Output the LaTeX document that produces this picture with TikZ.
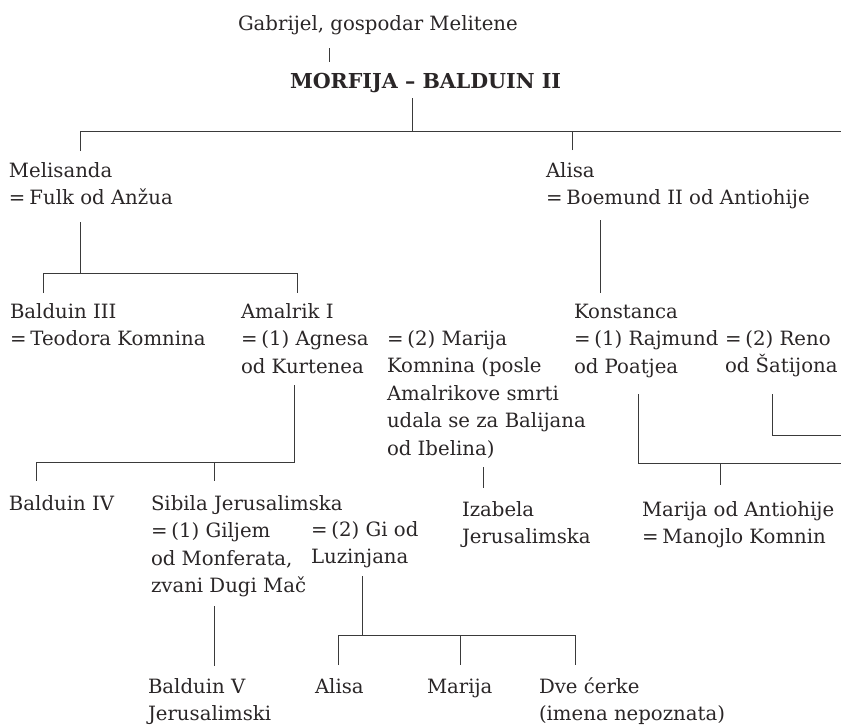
\documentclass[tikz,border=0pt]{standalone}
\usepackage{fontspec}
\setmainfont{DejaVu Serif}
\definecolor{ink}{HTML}{2A2627}
\definecolor{rule}{HTML}{3A3A3A}
\newcommand\pfont{\fontsize{19.7}{27.5}\selectfont}
\newcommand\hfont{\fontsize{20.6}{27.5}\selectfont\bfseries}
\newcommand\eqs{=\hspace{0.2em}}
\tikzset{
  person/.style={anchor=base west, inner sep=0pt, outer sep=0pt, align=left, font=\pfont, text=ink},
  head/.style={person, font=\hfont},
  link/.style={draw=rule, line width=0.9pt},
}
\begin{document}
\begin{tikzpicture}[x=1pt,y=-1pt]
\useasboundingbox (0,0) rectangle (841,726);
% ---- people (position = baseline of the last line) ----
\node[person] (gab) at (238,30) {Gabrijel, gospodar Melitene};
\node[head]   (morf) at (290,88) {MORFIJA – BALDUIN II};
\node[person] (mel) at (9,204.5) {Melisanda\\\eqs Fulk od Anžua};
\node[person] (alisa) at (546,204.5) {Alisa\\\eqs Boemund II od Antiohije};
\node[person] (bal3) at (10,345.5) {Balduin III\\\eqs Teodora Komnina};
\node[person] (amal) at (241,373) {Amalrik I\\\eqs (1) Agnesa\\od Kurtenea};
\node[person] (marK) at (387,455) {\eqs (2) Marija\\Komnina (posle\\Amalrikove smrti\\udala se za Balijana\\od Ibelina)};
\node[person] (kons) at (574,373) {Konstanca\\\eqs (1) Rajmund\\od Poatjea};
\node[person] (reno) at (725,372.5) {\eqs (2) Reno\\od Šatijona};
\node[person] (bal4) at (9,510) {Balduin IV};
\node[person] (sib) at (151,592.5) {Sibila Jerusalimska\\\eqs (1) Giljem\\od Monferata,\\zvani Dugi Mač};
\node[person] (gi) at (311,563.5) {\eqs (2) Gi od\\Luzinjana};
\node[person] (iza) at (462,543.5) {Izabela\\Jerusalimska};
\node[person] (marA) at (642,543.5) {Marija od Antiohije\\\eqs Manojlo Komnin};
\node[person] (bal5) at (148,720.5) {Balduin V\\Jerusalimski};
\node[person] (ali2) at (315,693) {Alisa};
\node[person] (mar2) at (427,693) {Marija};
\node[person] (dve) at (539,720.5) {Dve ćerke\\(imena nepoznata)};
% ---- junction coordinates ----
\coordinate (gA) at (329,48);  \coordinate (gB) at (329,62);
\coordinate (mA) at (412,98);  \coordinate (mB) at (412,131);
\coordinate (barL) at (80,131); \coordinate (barR) at (841,131);
\coordinate (melT) at (80,151); \coordinate (aliT) at (572,150);
\coordinate (meA) at (80,222); \coordinate (meB) at (80,273);
\coordinate (b2L) at (43,273); \coordinate (b2R) at (297,273);
\coordinate (b3T) at (43,293); \coordinate (amT) at (297,293);
\coordinate (alA) at (600,220); \coordinate (koT) at (600,293);
\coordinate (amA) at (294,385); \coordinate (amB) at (294,462);
\coordinate (b4L) at (36,462);  \coordinate (b4M) at (214,462);
\coordinate (b4T) at (36,481);  \coordinate (sbT) at (214,481);
\coordinate (mkA) at (483,467); \coordinate (izT) at (483,488);
\coordinate (rjA) at (638,394); \coordinate (rjB) at (638,463);
\coordinate (rjR) at (841,463); \coordinate (rjM) at (720,463); \coordinate (maT) at (720,485);
\coordinate (rnA) at (772,394); \coordinate (rnB) at (772,435); \coordinate (rnR) at (841,435);
\coordinate (gjA) at (214,606); \coordinate (b5T) at (214,666);
\coordinate (giA) at (362,576); \coordinate (giB) at (362,635);
\coordinate (cL) at (338,635); \coordinate (cM) at (460,635); \coordinate (cR) at (575,635);
\coordinate (c1) at (338,665); \coordinate (c2) at (460,665); \coordinate (c3) at (575,665);
% ---- connectors ----
\draw[link] (gA) -- (gB);
\draw[link] (mA) -- (mB);
\draw[link] (melT) -- (barL) -- (barR);
\draw[link] (aliT) -- (aliT |- barL);
\draw[link] (meA) -- (meB);
\draw[link] (b3T) -- (b2L) -- (b2R) -- (amT);
\draw[link] (alA) -- (koT);
\draw[link] (amA) -- (amB) -- (b4L) -- (b4T);
\draw[link] (b4M) -- (sbT);
\draw[link] (mkA) -- (izT);
\draw[link] (rjA) -- (rjB) -- (rjR);
\draw[link] (rjM) -- (maT);
\draw[link] (rnA) -- (rnB) -- (rnR);
\draw[link] (gjA) -- (b5T);
\draw[link] (giA) -- (giB);
\draw[link] (c1) -- (cL) -- (cR) -- (c3);
\draw[link] (cM) -- (c2);
\end{tikzpicture}
\end{document}
